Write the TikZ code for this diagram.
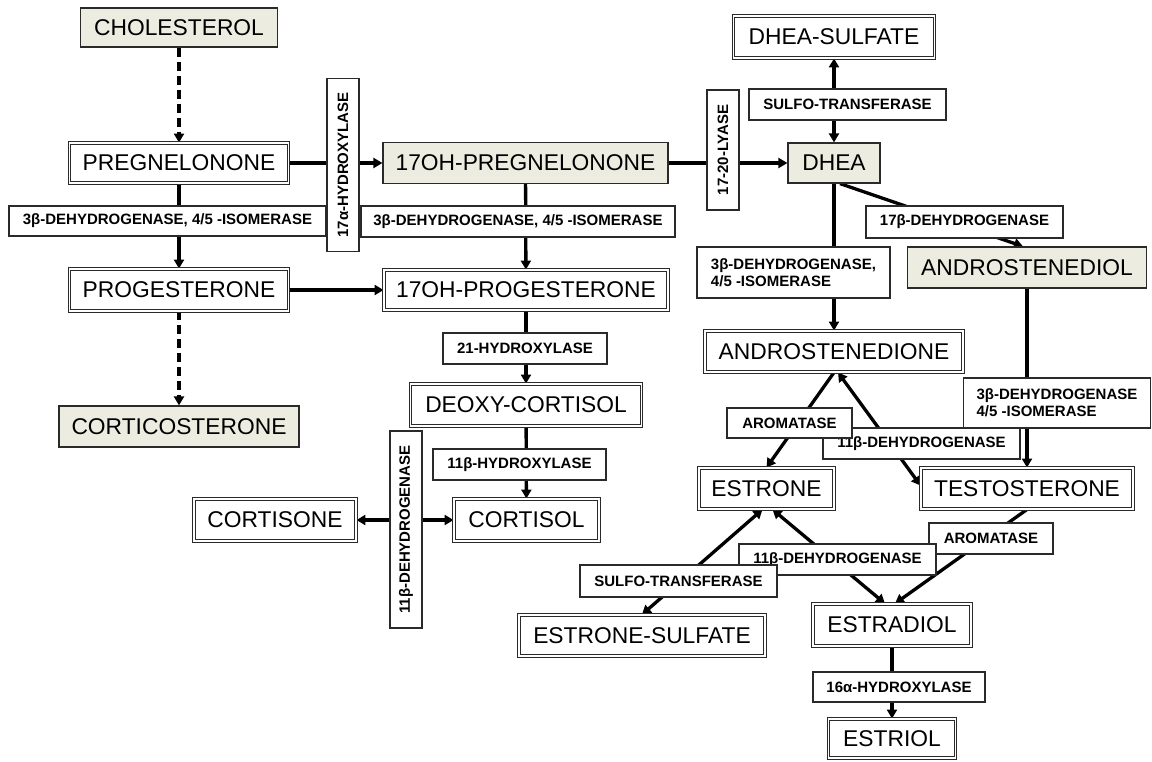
\documentclass[tikz,border=0pt]{standalone}
\usepackage{fontspec}
\setmainfont{Liberation Sans}
\usetikzlibrary{arrows.meta,backgrounds}
\definecolor{pale}{HTML}{ECECE1}
\definecolor{edge}{HTML}{2A2A2A}
\newcommand{\cmpd}{\fontsize{22.8}{26}\selectfont}
\newcommand{\enzf}{\bfseries\fontsize{15}{17}\selectfont}

\begin{document}
\begin{tikzpicture}[x=1pt,y=-1pt,
  >={Triangle[length=9pt,width=10pt]},
  steroid/.style={draw=edge,line width=0.9pt,double,double distance=1.6pt,fill=white,font=\cmpd,inner sep=0pt,minimum height=40pt},
  precursor/.style={draw=edge,line width=1.2pt,fill=pale,font=\cmpd,inner sep=0pt,minimum height=39pt},
  enzyme/.style={draw=edge,line width=1.1pt,fill=white,font=\enzf,inner sep=0pt,minimum height=30pt,align=left},
  enzymev/.style={enzyme,rotate=90,minimum height=32pt},
  flow/.style={line width=3.3pt,->},
  flowb/.style={line width=3.3pt,<->},
  hint/.style={flow,dash pattern=on 9pt off 5pt}]
  \useasboundingbox (0,0) rectangle (1152,761);
  \node[precursor,minimum width=197pt] (chol) at (179,27.5) {CHOLESTEROL};
  \node[steroid,minimum width=219pt] (preg) at (179,163) {PREGNELONONE};
  \node[precursor,minimum width=285pt,minimum height=41pt] (ohpreg) at (525.5,163) {17OH-PREGNELONONE};
  \node[precursor,minimum width=92pt,minimum height=40pt] (dhea) at (834,163) {DHEA};
  \node[steroid,minimum width=201pt,minimum height=42pt] (dheas) at (834,37) {DHEA-SULFATE};
  \node[steroid,minimum width=219pt,minimum height=42pt] (prog) at (179,290) {PROGESTERONE};
  \node[steroid,minimum width=284pt] (ohprog) at (526,290) {17OH-PROGESTERONE};
  \node[precursor,minimum width=240pt,minimum height=41pt] (cortico) at (179,426.5) {CORTICOSTERONE};
  \node[steroid,minimum width=231pt,minimum height=42pt] (deoxy) at (526,405) {DEOXY-CORTISOL};
  \node[steroid,minimum width=145pt,minimum height=42pt] (cortisol) at (526.5,520) {CORTISOL};
  \node[steroid,minimum width=162pt,minimum height=42pt] (cortisone) at (275,520) {CORTISONE};
  \node[precursor,minimum width=239pt,minimum height=41pt] (andiol) at (1027,267.5) {ANDROSTENEDIOL};
  \node[steroid,minimum width=258pt,minimum height=41pt] (andione) at (834,351.5) {ANDROSTENEDIONE};
  \node[steroid,minimum width=135pt,minimum height=41pt] (estrone) at (766.5,488.5) {ESTRONE};
  \node[steroid,minimum width=212pt,minimum height=41pt] (testo) at (1027,488.5) {TESTOSTERONE};
  \node[steroid,minimum width=246pt,minimum height=41pt] (estrones) at (642,635.5) {ESTRONE-SULFATE};
  \node[steroid,minimum width=158pt,minimum height=42pt] (estradiol) at (892,625) {ESTRADIOL};
  \node[steroid,minimum width=127pt,minimum height=39pt] (estriol) at (892,738.5) {ESTRIOL};

  \node[enzymev,minimum width=173pt] (hyd17) at (343,165) {17α-HYDROXYLASE};
  \node[enzymev,minimum width=120pt] (lyase) at (723,150) {17-20-LYASE};
  \node[enzymev,minimum width=197pt] (dh11v) at (406,529.5) {11β-DEHYDROGENASE};
  \node[enzyme,minimum width=317pt] (dehL) at (167.5,221) {3β-DEHYDROGENASE, 4/5 -ISOMERASE};
  \node[enzyme,minimum width=314pt,minimum height=31pt] (dehM) at (518,221.5) {3β-DEHYDROGENASE, 4/5 -ISOMERASE};
  \node[enzyme,minimum width=197pt,minimum height=31pt] (sulfT) at (847.5,104.5) {SULFO-TRANSFERASE};
  \node[enzyme,minimum width=197pt,minimum height=32pt] (dh17) at (964.5,222) {17β-DEHYDROGENASE};
  \node[enzyme,minimum width=193pt,minimum height=51pt] (dehR1) at (793.5,272.5) {3β-DEHYDROGENASE,\\4/5 -ISOMERASE};
  \node[enzyme,minimum width=164pt,minimum height=31pt] (hyd21) at (525,348.5) {21-HYDROXYLASE};
  \node[enzyme,minimum width=173pt,minimum height=31pt] (hyd11) at (519.5,464.5) {11β-HYDROXYLASE};
  \node[enzyme,minimum width=197pt,minimum height=31pt] (dh11m) at (921.5,443.5) {11β-DEHYDROGENASE};
  \node[enzyme,minimum width=125pt] (aroL) at (789.5,423) {AROMATASE};
  \node[enzyme,minimum width=187pt,minimum height=50pt] (dehR2) at (1057,403) {3β-DEHYDROGENASE\\4/5 -ISOMERASE};
  \node[enzyme,minimum width=124pt,minimum height=31pt] (aroR) at (991,538.5) {AROMATASE};
  \node[enzyme,minimum width=197pt,minimum height=31pt] (dh11l) at (837.5,559.5) {11β-DEHYDROGENASE};
  \node[enzyme,minimum width=197pt,minimum height=32pt] (sulfL) at (678.5,581) {SULFO-TRANSFERASE};
  \node[enzyme,minimum width=172pt] (hyd16) at (899,687) {16α-HYDROXYLASE};

  \begin{scope}[on background layer]
    \draw[hint] (chol) -- (preg);
    \draw[hint] (prog) -- (cortico);
    \draw[flow] (preg) -- (prog);
    \draw[flow] (preg) -- (ohpreg);
    \draw[flow] (prog) -- (ohprog);
    \draw[flow] (ohpreg) -- (ohprog);
    \draw[flow] (ohpreg) -- (dhea);
    \draw[flow] (ohprog) -- (deoxy);
    \draw[flow] (deoxy) -- (cortisol);
    \draw[flowb] (cortisone) -- (cortisol);
    \draw[flowb] (dhea) -- (dheas);
    \draw[flow] (dhea) -- (andione);
    \draw[flow] ([xshift=6pt]dhea.south) -- ([xshift=-4pt]andiol.north);
    \draw[flow] (andiol) -- (testo);
    \draw[flow] (andione.south) -- (estrone.north);
    \draw[flowb] ([xshift=4pt]andione.south) -- ([yshift=3pt]testo.west);
    \draw[flowb] ([xshift=-4pt]estrone.south) -- (estrones.north);
    \draw[flowb] ([xshift=6pt]estrone.south) -- ([xshift=-7pt]estradiol.north);
    \draw[flow] (testo.south) -- ([xshift=3pt]estradiol.north);
    \draw[flow] (estradiol) -- (estriol);
  \end{scope}
\end{tikzpicture}
\end{document}
